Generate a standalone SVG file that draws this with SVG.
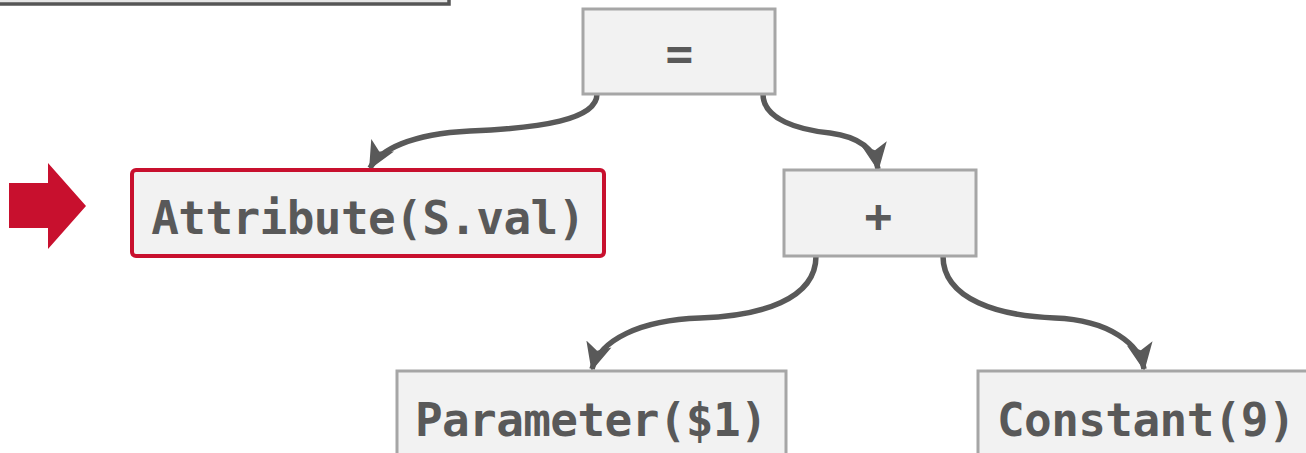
<svg xmlns="http://www.w3.org/2000/svg" width="1306" height="453" viewBox="0 0 1306 453">
<style>
.box{fill:#f2f2f2;stroke:#a6a6a6;stroke-width:3}
.lbl{font-family:"DejaVu Sans Mono","Liberation Mono",monospace;font-weight:bold;font-size:46px;letter-spacing:-0.6px;fill:#595959;text-anchor:middle}
.edge{fill:none;stroke:#595959;stroke-width:5.5;marker-end:url(#ah)}
</style>
<defs>
<marker id="ah" markerUnits="userSpaceOnUse" markerWidth="30" markerHeight="28" viewBox="0 0 30 28" refX="26" refY="14" orient="auto">
<path d="M0,1 L28,14 L0,27 L7,14 Z" fill="#595959"/>
</marker>
</defs>
<rect width="1306" height="453" fill="#ffffff"/>
<g id="prev-box">
<rect x="-10" y="-50" width="459" height="54" fill="#e6e6e6" stroke="#555555" stroke-width="3.5"/>
</g>
<g id="pointer">
<path d="M9,183 L48,183 L48,163 L86,206 L48,249 L48,228 L9,228 Z" fill="#c8102e"/>
</g>
<g id="connectors">
<path class="edge" d="M597,94 C597,120 540,128 470,131 C410,134 380,150 370,168"/>
<path class="edge" d="M763,94 C763,120 800,130 830,133 C860,137 875,150 878,169"/>
<path class="edge" d="M816,256 C816,300 760,316 700,318 C640,320 600,340 592,369"/>
<path class="edge" d="M943,256 C943,300 1000,316 1055,318 C1110,320 1140,345 1144,369"/>
</g>
<g id="node-eq">
<rect class="box" x="583" y="9" width="192" height="85"/>
<text class="lbl" x="679" y="70">=</text>
</g>
<g id="node-plus">
<rect class="box" x="784" y="170" width="192" height="86"/>
<text class="lbl" x="878" y="232">+</text>
</g>
<g id="node-attr">
<rect x="132" y="170" width="472" height="86" rx="4" fill="#f2f2f2" stroke="#c8102e" stroke-width="4"/>
<text class="lbl" x="368" y="234">Attribute(S.val)</text>
</g>
<g id="node-param">
<rect class="box" x="397" y="371" width="389" height="100"/>
<text class="lbl" x="591" y="436">Parameter($1)</text>
</g>
<g id="node-const">
<rect class="box" x="978" y="371" width="336" height="100"/>
<text class="lbl" x="1146" y="436">Constant(9)</text>
</g>
</svg>
